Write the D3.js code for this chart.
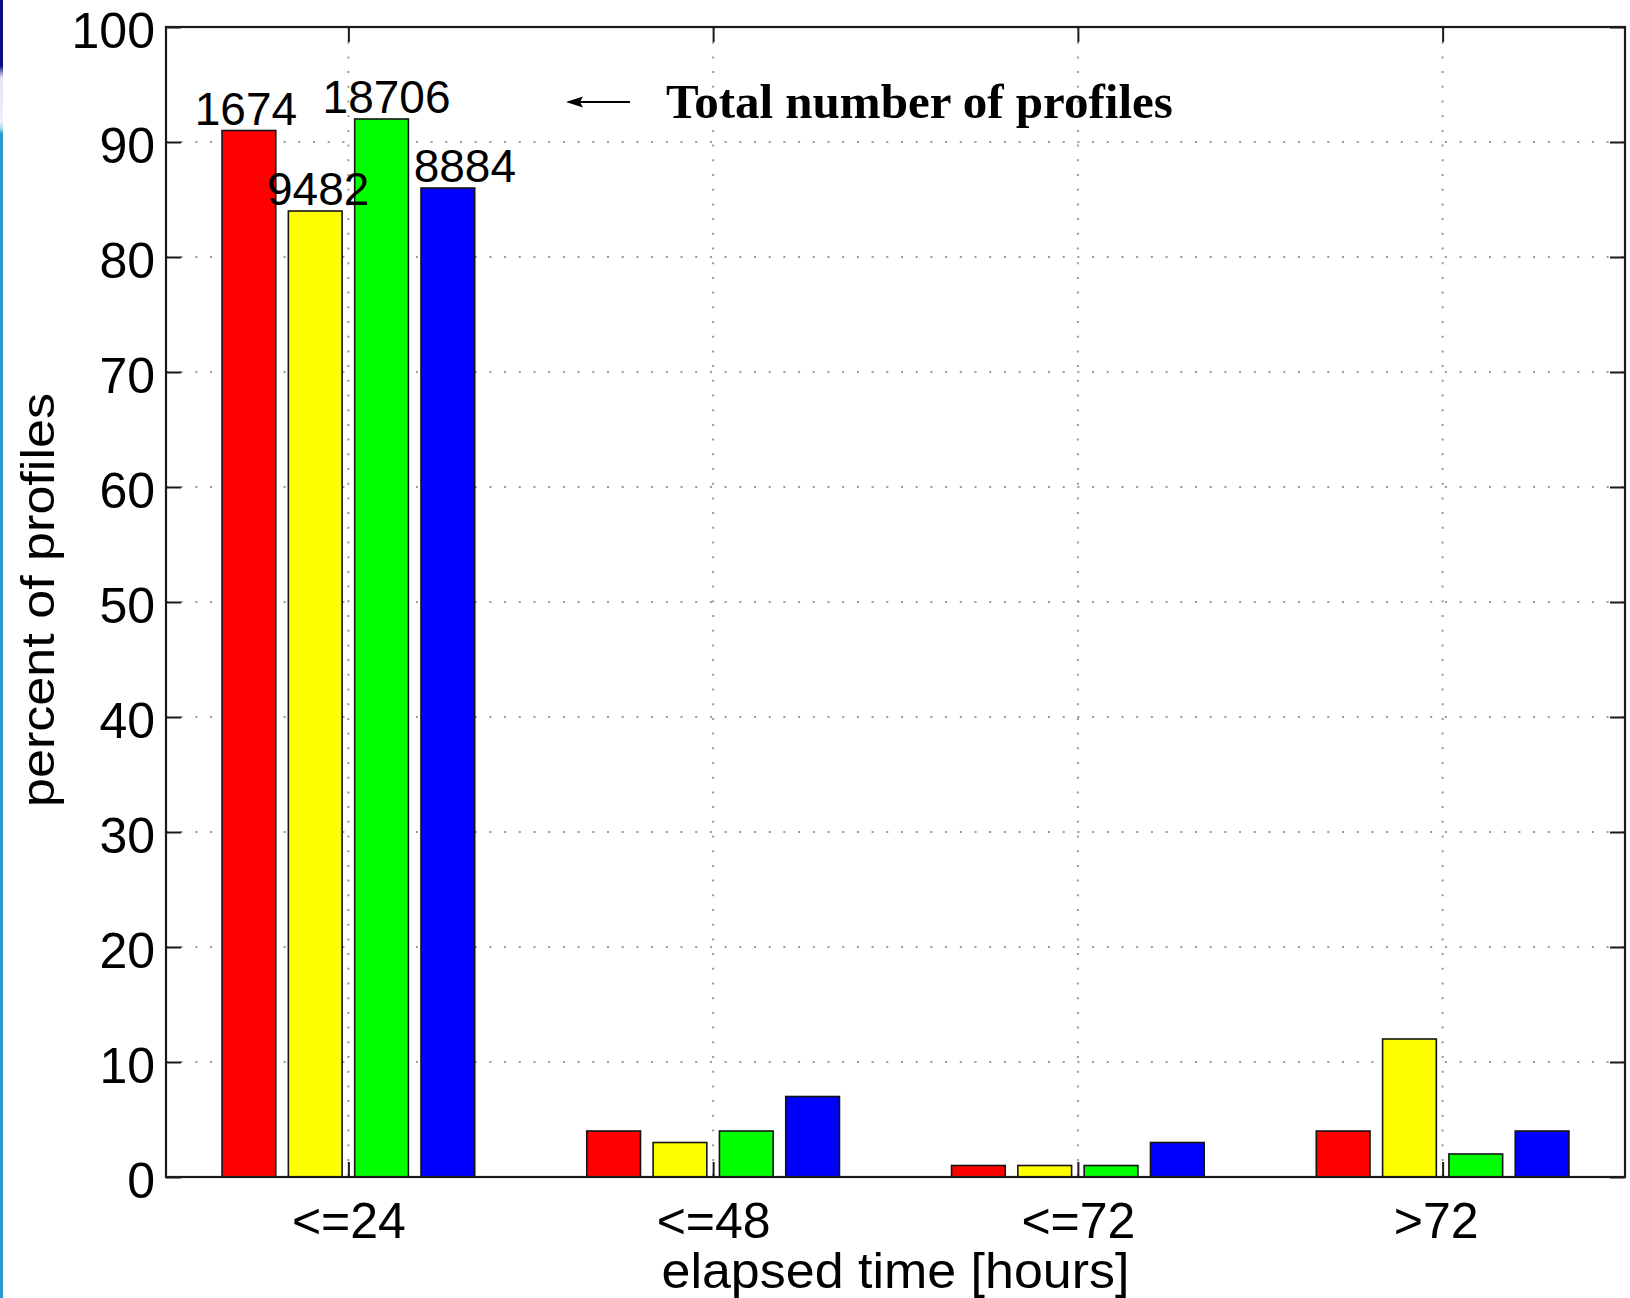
<!DOCTYPE html>
<html>
<head>
<meta charset="utf-8">
<script src="https://cdn.jsdelivr.net/npm/d3@7"></script>
<style>
  body { margin: 0; background: #ffffff; }
  svg { display: block; }
</style>
</head>
<body>
<svg id="chart" width="1630" height="1298"></svg>
<script>
// Elapsed-time classes on the x axis
const categories = ["<=24", "<=48", "<=72", ">72"];

// Percent of profiles per class, one array per data set
const redValues    = [91, 4, 1, 4];
const yellowValues = [84, 3, 1, 12];
const greenValues  = [92, 4, 1, 2];
const blueValues   = [86, 7, 3, 4];

// Total number of profiles in each data set (written above the first group)
const totalProfiles = [1674, 9482, 18706, 8884];

// Axis ticks
const yTicks = [0, 10, 20, 30, 40, 50, 60, 70, 80, 90, 100];

const seriesKeys = ["red", "yellow", "green", "blue"];
const seriesValues = [redValues, yellowValues, greenValues, blueValues];
const seriesColors = ["#ff0000", "#ffff00", "#00ff00", "#0000ff"];

const W = 1630, H = 1298;
const plot = { left: 166, right: 1625, top: 27, bottom: 1177 };
const FONT = "'Liberation Sans', Arial, Helvetica, sans-serif";

const svg = d3.select("#chart");

// Thin slide-edge strip on the far left
const defs = svg.append("defs");
const grad = defs.append("linearGradient")
  .attr("id", "edgeStrip").attr("x1", 0).attr("y1", 0).attr("x2", 0).attr("y2", 1);
[
  [0, "#0a0a84"], [66 / H, "#0a0a84"], [72 / H, "#8a88c8"], [78 / H, "#e6e4f4"],
  [122 / H, "#eef0fa"], [129 / H, "#9fd4ee"], [134 / H, "#2a98cc"], [1, "#2a98cc"]
].forEach(([o, c]) => grad.append("stop").attr("offset", o).attr("stop-color", c));
svg.append("rect").attr("x", 0).attr("y", 0).attr("width", 3).attr("height", H)
  .attr("fill", "url(#edgeStrip)");

// Scales
const x = d3.scaleBand()
  .domain(categories)
  .range([plot.left, plot.right])
  .paddingInner(0).paddingOuter(0);

const groupWidth = x.bandwidth() * (seriesKeys.length / (seriesKeys.length + 1.5));
const xs = d3.scaleBand()
  .domain(seriesKeys)
  .range([-groupWidth / 2, groupWidth / 2])
  .paddingInner(0.19)
  .paddingOuter(0.095);

const y = d3.scaleLinear().domain([0, 100]).range([plot.bottom, plot.top]);

const catCenter = c => x(c) + x.bandwidth() / 2;

// Dotted grid
const grid = svg.append("g")
  .attr("stroke", "#9a9a9a")
  .attr("stroke-width", 2)
  .attr("stroke-dasharray", "2 12.7");
grid.selectAll("line.h")
  .data(yTicks.filter(v => v > 0 && v < 100))
  .join("line").attr("class", "h")
  .attr("x1", plot.left).attr("x2", plot.right)
  .attr("y1", d => y(d)).attr("y2", d => y(d));
grid.selectAll("line.v")
  .data(categories)
  .join("line").attr("class", "v")
  .attr("x1", d => catCenter(d)).attr("x2", d => catCenter(d))
  .attr("y1", plot.top).attr("y2", plot.bottom);

// Grouped bars
const bars = svg.append("g");
seriesKeys.forEach((key, si) => {
  bars.append("g")
    .attr("fill", seriesColors[si])
    .attr("stroke", "#141414")
    .attr("stroke-width", 1.6)
    .selectAll("rect")
    .data(categories.map((c, ci) => ({ c, v: seriesValues[si][ci] })))
    .join("rect")
    .attr("x", d => catCenter(d.c) + xs(key))
    .attr("width", xs.bandwidth())
    .attr("y", d => y(d.v))
    .attr("height", d => y(0) - y(d.v));
});

// Axes with inward ticks on all four sides
const tickLen = 15;
const styleAxis = (g) => {
  g.select(".domain").remove();
  g.selectAll(".tick line").attr("stroke", "#1a1a1a").attr("stroke-width", 2);
};

svg.append("g")
  .attr("transform", `translate(${plot.left},0)`)
  .call(d3.axisLeft(y).tickValues(yTicks).tickSizeInner(-tickLen).tickSizeOuter(0).tickPadding(11))
  .call(styleAxis)
  .call(g => g.selectAll(".tick text")
    .attr("dy", "0.40em")
    .attr("fill", "#000")
    .style("font-family", FONT).style("font-size", "50px"));

svg.append("g")
  .attr("transform", `translate(${plot.right},0)`)
  .call(d3.axisRight(y).tickValues(yTicks).tickSizeInner(-tickLen).tickSizeOuter(0).tickFormat(""))
  .call(styleAxis);

const xAxisScale = d3.scalePoint().domain(categories)
  .range([catCenter(categories[0]), catCenter(categories[categories.length - 1])]);

// the ">72" label sits a little left of its tick
const xLabelNudge = [0, 0, 0, -7];

svg.append("g")
  .attr("transform", `translate(0,${plot.bottom})`)
  .call(d3.axisBottom(xAxisScale).tickSizeInner(-tickLen).tickSizeOuter(0).tickPadding(25))
  .call(styleAxis)
  .call(g => g.selectAll(".tick text")
    .attr("dy", "0.71em")
    .attr("dx", (d, i) => xLabelNudge[i])
    .attr("fill", "#000")
    .style("font-family", FONT).style("font-size", "50px"));

svg.append("g")
  .attr("transform", `translate(0,${plot.top})`)
  .call(d3.axisTop(xAxisScale).tickSizeInner(-tickLen).tickSizeOuter(0).tickFormat(""))
  .call(styleAxis);

// Plot frame
svg.append("rect")
  .attr("x", plot.left).attr("y", plot.top)
  .attr("width", plot.right - plot.left).attr("height", plot.bottom - plot.top)
  .attr("fill", "none").attr("stroke", "#1a1a1a").attr("stroke-width", 2.2);

// Totals above the first group of bars (small horizontal nudges per label)
const totalNudge = [-3, 3, 5, 17];
svg.append("g")
  .selectAll("text")
  .data(seriesKeys.map((key, si) => ({ key, v: seriesValues[si][0], n: totalProfiles[si], dx: totalNudge[si] })))
  .join("text")
  .attr("x", d => catCenter(categories[0]) + xs(d.key) + xs.bandwidth() / 2 + d.dx)
  .attr("y", d => y(d.v) - 6)
  .attr("text-anchor", "middle")
  .attr("fill", "#000")
  .style("font-family", FONT).style("font-size", "46px")
  .text(d => d.n);

// Annotation: arrow pointing back at the totals, then its caption
const arrowY = 102;
svg.append("line")
  .attr("x1", 630).attr("x2", 578)
  .attr("y1", arrowY).attr("y2", arrowY)
  .attr("stroke", "#000").attr("stroke-width", 2);
svg.append("path")
  .attr("d", d3.line()([[566, arrowY], [583, arrowY - 5.5], [580, arrowY], [583, arrowY + 5.5]]) + "Z")
  .attr("fill", "#000");

svg.append("text")
  .attr("x", 666).attr("y", 118)
  .attr("fill", "#000")
  .style("font-family", "'Liberation Serif', 'Times New Roman', serif")
  .style("font-weight", "bold").style("font-size", "49px")
  .text("Total number of profiles");

// Axis titles
svg.append("text")
  .attr("x", (plot.left + plot.right) / 2).attr("y", 1288)
  .attr("text-anchor", "middle").attr("fill", "#000")
  .attr("textLength", 468).attr("lengthAdjust", "spacingAndGlyphs")
  .style("font-family", FONT).style("font-size", "50px")
  .text("elapsed time [hours]");

svg.append("text")
  .attr("transform", "translate(54,600) rotate(-90)")
  .attr("text-anchor", "middle").attr("fill", "#000")
  .attr("textLength", 414).attr("lengthAdjust", "spacingAndGlyphs")
  .style("font-family", FONT).style("font-size", "46px")
  .text("percent of profiles");
</script>
</body>
</html>
